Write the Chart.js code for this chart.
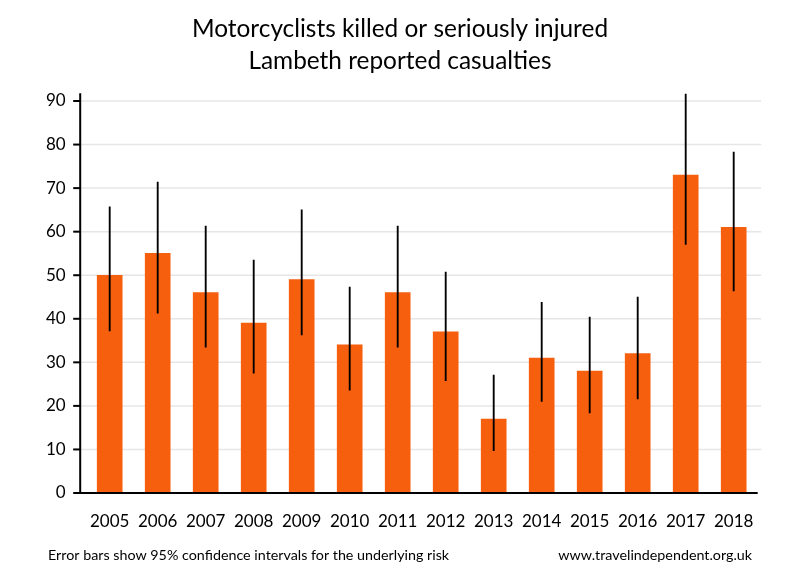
<!DOCTYPE html>
<html>
<head>
<meta charset="utf-8">
<script src="https://cdn.jsdelivr.net/npm/chart.js@4/dist/chart.umd.min.js"></script>
<style>
  html, body { margin: 0; padding: 0; background: #fff; }
  #wrap { width: 800px; height: 580px; position: relative; }
</style>
</head>
<body>
<div id="wrap"><canvas id="c" width="800" height="580"></canvas></div>
<script>
const years = ['2005','2006','2007','2008','2009','2010','2011','2012','2013','2014','2015','2016','2017','2018'];
const casualties = [50, 55, 46, 39, 49, 34, 46, 37, 17, 31, 28, 32, 73, 61];
const ciLow  = [37.2, 41.3, 33.5, 27.5, 36.3, 23.6, 33.5, 25.8, 9.7, 21.0, 18.4, 21.6, 57.1, 46.4];
const ciHigh = [65.7, 71.4, 61.3, 53.5, 65.0, 47.3, 61.3, 50.7, 27.1, 43.8, 40.4, 45.0, 91.6, 78.3];
const yTicks = [0, 10, 20, 30, 40, 50, 60, 70, 80, 90];
const titleLines = ['Motorcyclists killed or seriously injured', 'Lambeth reported casualties'];
const footLeft = 'Error bars show 95% confidence intervals for the underlying risk';
const footRight = 'www.travelindependent.org.uk';

const FONT = 'Lato, "Open Sans", sans-serif';

const decor = {
  id: 'decor',
  beforeDatasetsDraw(chart) {
    const ctx = chart.ctx, y = chart.scales.y, a = chart.chartArea;
    const axX = a.left - 5.5;
    ctx.save();
    ctx.strokeStyle = '#e6e6e6';
    ctx.lineWidth = 1.5;
    yTicks.forEach(v => {
      if (v === 0) return;
      const py = y.getPixelForValue(v);
      ctx.beginPath(); ctx.moveTo(axX, py); ctx.lineTo(a.right + 3.5, py); ctx.stroke();
    });
    ctx.restore();
  },
  afterDatasetsDraw(chart) {
    const ctx = chart.ctx, y = chart.scales.y, a = chart.chartArea;
    const axX = a.left - 5.5;
    ctx.save();
    ctx.strokeStyle = '#000';
    ctx.lineWidth = 2;
    ctx.beginPath(); ctx.moveTo(axX, a.top + 1); ctx.lineTo(axX, a.bottom + 1); ctx.stroke();
    ctx.beginPath(); ctx.moveTo(axX - 1, a.bottom); ctx.lineTo(a.right, a.bottom); ctx.stroke();
    yTicks.forEach(v => {
      const py = y.getPixelForValue(v);
      ctx.beginPath(); ctx.moveTo(axX - 7, py); ctx.lineTo(axX, py); ctx.stroke();
    });
    ctx.fillStyle = '#000';
    ctx.textAlign = 'center';
    ctx.textBaseline = 'middle';
    ctx.font = '24.4px ' + FONT;
    ctx.fillText(titleLines[0], 400, 29);
    ctx.fillText(titleLines[1], 400, 61);
    ctx.font = '14.3px ' + FONT;
    ctx.textAlign = 'left';
    ctx.fillText(footLeft, 48, 555);
    ctx.textAlign = 'right';
    ctx.fillText(footRight, 752, 555);
    ctx.restore();
  }
};

new Chart(document.getElementById('c'), {
  type: 'bar',
  data: {
    labels: years,
    datasets: [
      {
        label: 'CI',
        data: ciLow.map((l, i) => [l, ciHigh[i]]),
        backgroundColor: '#000',
        barThickness: 1.2,
        grouped: false,
        order: 0
      },
      {
        label: 'Casualties',
        data: casualties,
        backgroundColor: '#F55F0E',
        barThickness: 25,
        grouped: false,
        order: 1
      }
    ]
  },
  options: {
    responsive: false,
    animation: false,
    devicePixelRatio: 1,
    layout: { padding: { top: 92.3, right: 42.3, left: 0, bottom: 0 } },
    plugins: { legend: { display: false }, tooltip: { enabled: false }, title: { display: false } },
    scales: {
      x: {
        offset: true,
        grid: { display: false, drawTicks: false },
        border: { display: false },
        ticks: { color: '#000', font: { family: FONT, size: 17 }, padding: 18, maxRotation: 0 },
        afterFit(s) { s.height = 87; }
      },
      y: {
        min: 0, max: 92,
        grid: { display: false, drawTicks: false },
        border: { display: false },
        ticks: { color: '#000', font: { family: FONT, size: 17 }, padding: 20 },
        afterBuildTicks(s) { s.ticks = yTicks.map(v => ({ value: v })); },
        afterFit(s) { s.width = 85.7; }
      }
    }
  },
  plugins: [decor]
});
</script>
</body>
</html>
